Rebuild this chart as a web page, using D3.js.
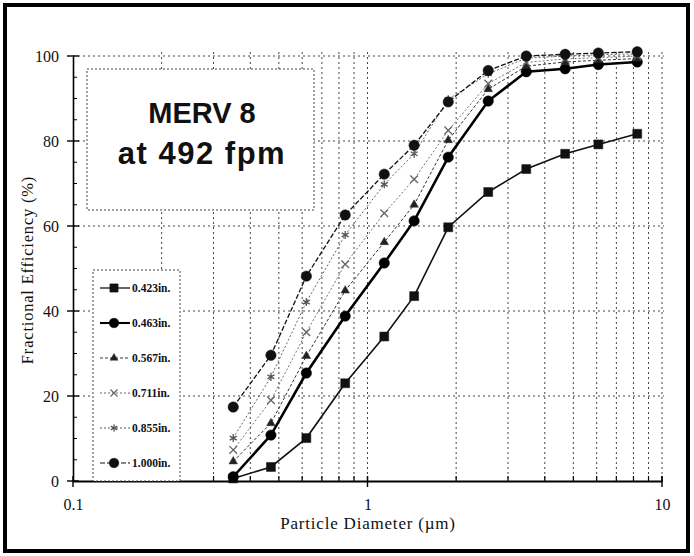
<!DOCTYPE html>
<html>
<head>
<meta charset="utf-8">
<script src="https://cdn.jsdelivr.net/npm/d3@7"></script>
<style>
  body { margin: 0; background: #fff; }
  text { font-family: "Liberation Serif", "Times New Roman", serif; fill: #111; }
</style>
</head>
<body>
<svg id="chart"></svg>
<script>
// particle diameters (um) measured by the counter
const diameters = [0.35, 0.47, 0.62, 0.84, 1.14, 1.44, 1.88, 2.57, 3.46, 4.69, 6.08, 8.24];

// fractional efficiency (%) per media depth
const eff423  = [0.6, 3.3, 10.1, 23.0, 34.0, 43.5, 59.7, 68.0, 73.4, 77.0, 79.2, 81.7];
const eff463  = [1.0, 10.8, 25.4, 38.8, 51.3, 61.2, 76.2, 89.4, 96.3, 97.0, 98.0, 98.6];
const eff567  = [4.6, 13.6, 29.4, 44.8, 56.2, 65.0, 80.2, 92.2, 97.6, 98.6, 99.0, 99.4];
const eff711  = [7.3, 19.0, 35.0, 51.0, 63.0, 71.0, 82.5, 93.5, 98.5, 99.3, 99.6, 100.0];
const eff855  = [10.1, 24.5, 42.1, 57.9, 69.8, 77.0, 89.8, 95.8, 99.5, 100.0, 100.3, 100.5];
const eff1000 = [17.4, 29.6, 48.2, 62.6, 72.2, 79.0, 89.2, 96.6, 100.0, 100.4, 100.7, 101.0];

const seriesNames = ["0.423in.", "0.463in.", "0.567in.", "0.711in.", "0.855in.", "1.000in."];
const seriesValues = [eff423, eff463, eff567, eff711, eff855, eff1000];

const yTicks = [0, 20, 40, 60, 80, 100];
const xTickLabels = [0.1, 1, 10];

const width = 694, height = 556;

const svg = d3.select("#chart")
  .attr("width", width)
  .attr("height", height);

const x = d3.scaleLog().domain([0.1, 10]).range([73, 662]);
const y = d3.scaleLinear().domain([0, 100]).range([481, 56]);

// line / marker look for each series
const styles = [
  { sym: d3.symbolSquare,   size: 80, w: 1.6, dash: null,    col: "#111", fill: "#111" },
  { sym: d3.symbolCircle,   size: 85, w: 2.6, dash: null,    col: "#000", fill: "#000" },
  { sym: d3.symbolTriangle, size: 32, w: 1.0, dash: "3,2",   col: "#333", fill: "#222" },
  { sym: d3.symbolX || d3.symbolCross, size: 40, w: 0.9, dash: "2,2", col: "#666", fill: "none" },
  { sym: d3.symbolAsterisk || d3.symbolCross, size: 45, w: 0.9, dash: "2,2", col: "#555", fill: "none" },
  { sym: d3.symbolCircle,   size: 85, w: 1.3, dash: "5,2",   col: "#111", fill: "#111" }
];

// outer frame
svg.append("rect")
  .attr("x", 5).attr("y", 5)
  .attr("width", 683).attr("height", 546)
  .attr("fill", "none")
  .attr("stroke", "#000")
  .attr("stroke-width", 4);

// grid
const grid = svg.append("g").attr("class", "grid");
const vLines = [];
[0.1, 1].forEach(d => { for (let k = 2; k <= 10; k++) vLines.push(d * k); });

grid.selectAll(".vgrid")
  .data(vLines)
  .enter().append("line")
  .attr("x1", d => x(d)).attr("x2", d => x(d))
  .attr("y1", y(100) - 4).attr("y2", y(0))
  .attr("stroke", "#444")
  .attr("stroke-width", 1)
  .attr("stroke-dasharray", "2,3");

grid.selectAll(".hgrid")
  .data(yTicks.slice(1))
  .enter().append("line")
  .attr("x1", x(0.1)).attr("x2", x(10) + 2)
  .attr("y1", d => y(d)).attr("y2", d => y(d))
  .attr("stroke", "#444")
  .attr("stroke-width", 1)
  .attr("stroke-dasharray", "2,3");

// y axis
const yAxis = svg.append("g")
  .attr("transform", `translate(${x(0.1)},0)`)
  .call(d3.axisLeft(y).tickValues(yTicks).tickSize(0).tickPadding(14));
yAxis.select(".domain").attr("stroke", "#000").attr("stroke-width", 1.6);
yAxis.selectAll("text").style("font-size", "16px").style("font-family", "Liberation Serif");

// y ticks: major crossing the axis, minor inside
svg.selectAll(".ymaj")
  .data(yTicks)
  .enter().append("line")
  .attr("x1", x(0.1) - 6).attr("x2", x(0.1) + 6)
  .attr("y1", d => y(d)).attr("y2", d => y(d))
  .attr("stroke", "#000").attr("stroke-width", 1.4);
svg.selectAll(".ymin")
  .data(d3.range(5, 100, 5).filter(d => d % 20 !== 0))
  .enter().append("line")
  .attr("x1", x(0.1)).attr("x2", x(0.1) + 4)
  .attr("y1", d => y(d)).attr("y2", d => y(d))
  .attr("stroke", "#000").attr("stroke-width", 1);

// x axis
const xAxis = svg.append("g")
  .attr("transform", `translate(0,${y(0)})`)
  .call(d3.axisBottom(x).tickValues(xTickLabels).tickFormat(d3.format("")).tickSize(0).tickPadding(18));
xAxis.select(".domain").attr("stroke", "#000").attr("stroke-width", 1.8);
xAxis.selectAll("text").style("font-size", "16px").style("font-family", "Liberation Serif");

svg.selectAll(".xmin")
  .data(vLines)
  .enter().append("line")
  .attr("x1", d => x(d)).attr("x2", d => x(d))
  .attr("y1", y(0)).attr("y2", y(0) - 5)
  .attr("stroke", "#000").attr("stroke-width", 1.2);
svg.selectAll(".xmaj")
  .data(xTickLabels)
  .enter().append("line")
  .attr("x1", d => x(d)).attr("x2", d => x(d))
  .attr("y1", y(0) - 5).attr("y2", y(0) + 6)
  .attr("stroke", "#000").attr("stroke-width", 1.4);

// axis titles
svg.append("text")
  .attr("x", 368).attr("y", 529)
  .attr("text-anchor", "middle")
  .style("font-size", "17px")
  .style("letter-spacing", "0.8px")
  .text("Particle Diameter (µm)");

svg.append("text")
  .attr("transform", "translate(33,270) rotate(-90)")
  .attr("text-anchor", "middle")
  .style("font-size", "16.5px")
  .style("letter-spacing", "0.8px")
  .text("Fractional Efficiency (%)");

// series
const line = d3.line()
  .x((d, i) => x(diameters[i]))
  .y(d => y(d));

const plot = svg.append("g").attr("class", "series");
seriesValues.forEach((vals, s) => {
  const st = styles[s];
  plot.append("path")
    .datum(vals)
    .attr("d", line)
    .attr("fill", "none")
    .attr("stroke", st.col)
    .attr("stroke-width", st.w)
    .attr("stroke-dasharray", st.dash);

  plot.selectAll(".m" + s)
    .data(vals)
    .enter().append("path")
    .attr("transform", (d, i) => `translate(${x(diameters[i])},${y(d)})`)
    .attr("d", d3.symbol().type(st.sym).size(st.size))
    .attr("fill", st.fill)
    .attr("stroke", st.col)
    .attr("stroke-width", st.fill === "none" ? 1.3 : 0.5);
});

// title box
const titleBox = svg.append("g");
titleBox.append("rect")
  .attr("x", 87).attr("y", 69)
  .attr("width", 227).attr("height", 141)
  .attr("fill", "#fff")
  .attr("stroke", "#444")
  .attr("stroke-width", 1)
  .attr("stroke-dasharray", "2,2");
titleBox.append("text")
  .attr("x", 202).attr("y", 123)
  .attr("text-anchor", "middle")
  .style("font-family", "Liberation Sans, Arial, sans-serif")
  .style("font-weight", "bold")
  .style("font-size", "29px")
  .text("MERV 8");
titleBox.append("text")
  .attr("x", 202).attr("y", 164)
  .attr("text-anchor", "middle")
  .style("font-family", "Liberation Sans, Arial, sans-serif")
  .style("font-weight", "bold")
  .style("font-size", "31px")
  .style("letter-spacing", "1.5px")
  .text("at 492 fpm");

// legend
const legend = svg.append("g");
legend.append("rect")
  .attr("x", 93).attr("y", 270)
  .attr("width", 87).attr("height", y(0) - 270)
  .attr("fill", "#fff")
  .attr("stroke", "#444")
  .attr("stroke-width", 1)
  .attr("stroke-dasharray", "2,2");

const items = legend.selectAll(".item")
  .data(seriesNames)
  .enter().append("g")
  .attr("transform", (d, i) => `translate(100,${288 + i * 35})`);

items.append("line")
  .attr("x1", 0).attr("x2", 30)
  .attr("stroke", (d, i) => styles[i].col)
  .attr("stroke-width", (d, i) => Math.max(1, styles[i].w * 0.8))
  .attr("stroke-dasharray", (d, i) => styles[i].dash);

items.append("path")
  .attr("transform", "translate(14,0)")
  .attr("d", (d, i) => d3.symbol().type(styles[i].sym).size(styles[i].size * 0.85)())
  .attr("fill", (d, i) => styles[i].fill)
  .attr("stroke", (d, i) => styles[i].col)
  .attr("stroke-width", (d, i) => styles[i].fill === "none" ? 1.2 : 0.5);

items.append("text")
  .attr("x", 32).attr("y", 4)
  .style("font-size", "11.5px")
  .style("font-weight", "bold")
  .text(d => d);
</script>
</body>
</html>
